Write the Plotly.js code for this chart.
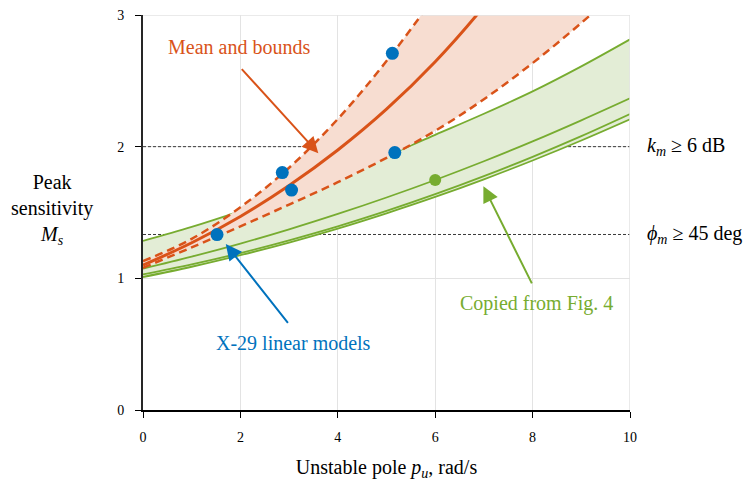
<!DOCTYPE html>
<html>
<head>
<meta charset="utf-8">
<script src="https://cdn.plot.ly/plotly-3.0.1.min.js"></script>
<style>html,body{margin:0;padding:0;background:#fff;}#chart{width:753px;height:481px;}</style>
</head>
<body>
<div id="chart"></div>
<script>
// ---- data ----
const poleGrid = [0, 1, 2, 3, 4, 5, 6, 7, 8, 9, 10];
const fig4Upper = [1.284, 1.39, 1.51, 1.64, 1.78, 1.93, 2.09, 2.25, 2.42, 2.61, 2.815];
const fig4Mid   = [1.074, 1.165, 1.264, 1.372, 1.489, 1.614, 1.747, 1.889, 2.040, 2.200, 2.367];
const fig4Low1  = [1.030, 1.106, 1.192, 1.289, 1.395, 1.512, 1.639, 1.776, 1.923, 2.080, 2.248];
const fig4Low2  = [1.010, 1.088, 1.176, 1.272, 1.378, 1.494, 1.618, 1.752, 1.895, 2.047, 2.208];

const meanPu  = [0, 1, 2, 3, 4, 5, 6, 7, 8];
const meanMs  = [1.10, 1.27, 1.47, 1.705, 1.975, 2.285, 2.645, 3.065, 3.545];
const upperPu = [0, 1, 2, 3, 4, 5, 6, 7];
const upperMs = [1.13, 1.30, 1.54, 1.84, 2.21, 2.65, 3.15, 3.72];
const lowerPu = [0, 1, 2, 3, 4, 5, 6, 7, 8, 9, 10];
const lowerMs = [1.08, 1.235, 1.395, 1.56, 1.73, 1.915, 2.12, 2.36, 2.635, 2.94, 3.27];

const x29Pu = [1.52, 2.86, 3.05, 5.12, 5.17];
const x29Ms = [1.332, 1.803, 1.67, 2.709, 1.955];
const fig4PointPu = [6.0];
const fig4PointMs = [1.747];

const thresholdPu = [0, 10];
const gainMarginMs = [2, 2];
const phaseMarginMs = [1.333, 1.333];

const xTicks = [0, 2, 4, 6, 8, 10];
const yTicks = [0, 1, 2, 3];

// ---- styles ----
const RED = '#d95319', BLUE = '#0072bd', GREEN = '#77ac30';
const FONT = 'Liberation Serif, Times New Roman, serif';

const traces = [
  {x: thresholdPu, y: gainMarginMs, mode: 'lines', line: {color: '#3a3a3a', width: 1, dash: '3px,2px'}, hoverinfo: 'skip'},
  {x: thresholdPu, y: phaseMarginMs, mode: 'lines', line: {color: '#3a3a3a', width: 1, dash: '3px,2px'}, hoverinfo: 'skip'},
  {x: poleGrid, y: fig4Low2, mode: 'lines', line: {color: GREEN, width: 1.8, shape: 'spline'}},
  {x: poleGrid, y: fig4Upper, mode: 'lines', fill: 'tonexty', fillcolor: 'rgb(227,237,214)', line: {color: GREEN, width: 1.8, shape: 'spline'}},
  {x: poleGrid, y: fig4Mid, mode: 'lines', line: {color: GREEN, width: 1.8, shape: 'spline'}},
  {x: poleGrid, y: fig4Low1, mode: 'lines', line: {color: GREEN, width: 1.8, shape: 'spline'}},
  {x: lowerPu, y: lowerMs, mode: 'lines', line: {color: RED, width: 2.5, dash: '8px,5px', shape: 'spline'}},
  {x: upperPu, y: upperMs, mode: 'lines', fill: 'tonexty', fillcolor: 'rgb(247,221,209)', line: {color: RED, width: 2.5, dash: '8px,5px', shape: 'spline'}},
  {x: meanPu, y: meanMs, mode: 'lines', line: {color: RED, width: 3, shape: 'spline'}},
  {x: x29Pu, y: x29Ms, mode: 'markers', marker: {color: BLUE, size: 13}},
  {x: fig4PointPu, y: fig4PointMs, mode: 'markers', marker: {color: GREEN, size: 12}}
];

const arrowBase = {xref: 'x', yref: 'y', axref: 'x', ayref: 'y', text: '', showarrow: true,
                   arrowhead: 2, arrowsize: 1.6, arrowwidth: 2, standoff: 0, startstandoff: 0};

const layout = {
  width: 753, height: 481,
  margin: {l: 143, r: 123, t: 15, b: 71},
  paper_bgcolor: '#fff', plot_bgcolor: '#fff',
  showlegend: false,
  font: {family: FONT, size: 14, color: '#000'},
  xaxis: {
    range: [0, 10], tickvals: xTicks, ticktext: xTicks.map(String),
    showgrid: true, gridcolor: '#e3e3e3', gridwidth: 1, zeroline: false,
    showline: true, linecolor: '#000', linewidth: 1.5,
    ticks: 'outside', ticklen: 6, tickcolor: '#000', ticklabelstandoff: 8,
    tickfont: {size: 14, family: FONT},
    title: {text: 'Unstable pole <i>p<sub>u</sub></i>, rad/s', font: {size: 20, family: FONT}, standoff: 20},
    automargin: false, fixedrange: true
  },
  yaxis: {
    range: [0, 3], tickvals: yTicks, ticktext: yTicks.map(String),
    showgrid: true, gridcolor: '#e3e3e3', gridwidth: 1, zeroline: false,
    showline: true, linecolor: '#262626', linewidth: 2,
    ticks: 'outside', ticklen: 6, tickcolor: '#000', ticklabelstandoff: 8,
    tickfont: {size: 14, family: FONT},
    automargin: false, fixedrange: true
  },
  shapes: [
    {type: 'line', xref: 'x', yref: 'y', x0: 0, x1: 10, y0: 3, y1: 3, line: {color: '#e3e3e3', width: 1.5}},
    {type: 'line', xref: 'x', yref: 'y', x0: 10, x1: 10, y0: 0, y1: 3, line: {color: '#e3e3e3', width: 1.5}}
  ],
  annotations: [
    {xref: 'paper', yref: 'paper', x: -0.187, y: 0.507, xanchor: 'center', yanchor: 'middle', align: 'center',
     showarrow: false, text: 'Peak<br>sensitivity<br><i>M<sub>s</sub></i>', font: {size: 20, family: FONT, color: '#000'}},
    {xref: 'x', yref: 'y', x: 1.97, y: 2.76, showarrow: false, text: 'Mean and bounds', font: {size: 20, family: FONT, color: RED}},
    Object.assign({}, arrowBase, {x: 3.60, y: 1.95, ax: 2.0, ay: 2.60, arrowcolor: RED}),
    {xref: 'x', yref: 'y', x: 3.1, y: 0.51, showarrow: false, text: 'X-29 linear models', font: {size: 20, family: FONT, color: BLUE}},
    Object.assign({}, arrowBase, {x: 1.70, y: 1.26, ax: 3.0, ay: 0.65, arrowcolor: BLUE}),
    {xref: 'x', yref: 'y', x: 8.09, y: 0.81, showarrow: false, text: 'Copied from Fig. 4', font: {size: 20, family: FONT, color: GREEN}},
    Object.assign({}, arrowBase, {x: 6.99, y: 1.70, ax: 8.0, ay: 0.95, arrowcolor: GREEN}),
    {xref: 'paper', yref: 'y', x: 1.031, y: 2, xanchor: 'left', yanchor: 'middle', showarrow: false,
     text: '<i>k<sub>m</sub></i> ≥ 6 dB', font: {size: 20, family: FONT, color: '#000'}},
    {xref: 'paper', yref: 'y', x: 1.031, y: 1.333, xanchor: 'left', yanchor: 'middle', showarrow: false,
     text: '<i>ϕ<sub>m</sub></i> ≥ 45 deg', font: {size: 20, family: FONT, color: '#000'}}
  ]
};

Plotly.newPlot('chart', traces, layout, {staticPlot: true, displayModeBar: false});
</script>
</body>
</html>
